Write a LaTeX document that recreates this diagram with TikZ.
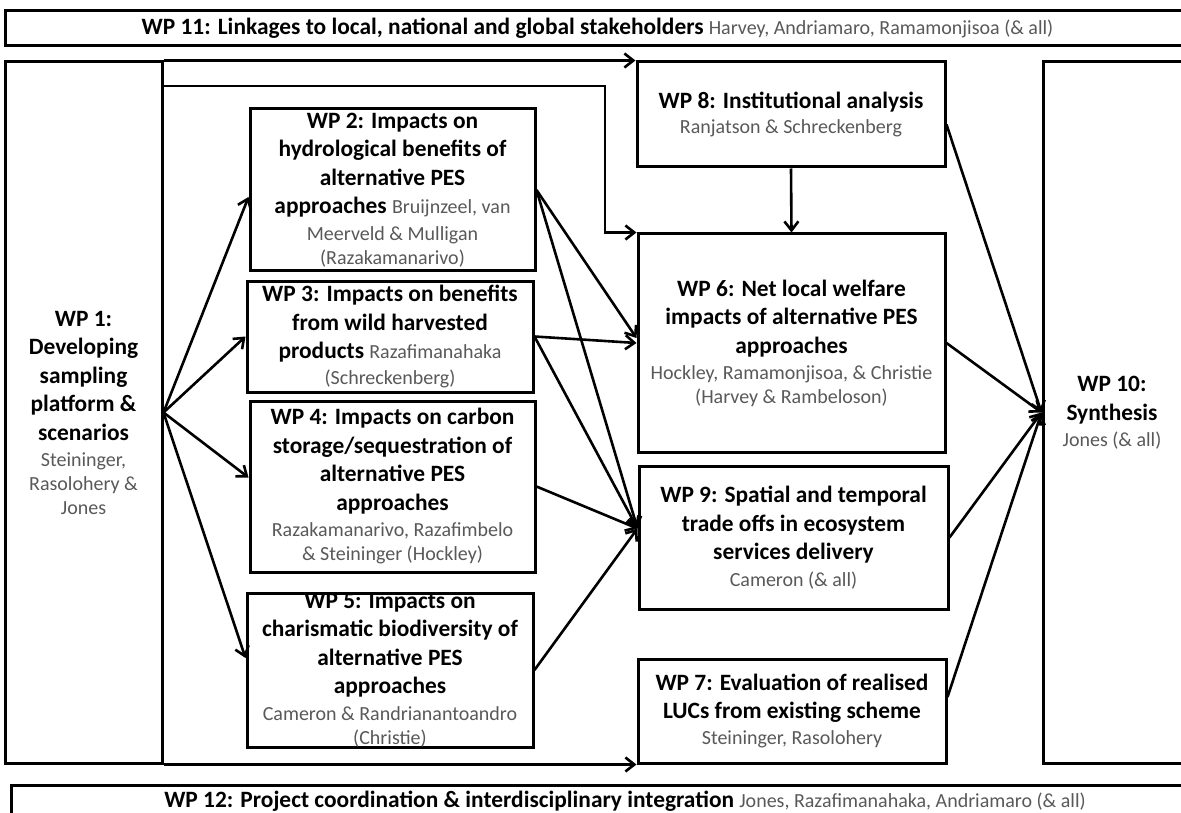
\documentclass[tikz,border=0pt]{standalone}
\usepackage{fontspec}
\setmainfont{Carlito}
\usetikzlibrary{arrows.meta,calc}
\definecolor{namegray}{HTML}{595959}
\newcommand\nm[1]{{\normalfont\color{namegray}\fontsize{20}{24}\selectfont #1}}
\tikzset{
  wpbox/.style={draw, line width=3pt, inner sep=0pt, align=center,
    font=\fontsize{23.4}{28.5}\selectfont\bfseries},
  wptext/.style={inner sep=0pt, align=center,
    font=\fontsize{23.4}{28.5}\selectfont\bfseries},
  conn/.style={line width=2.6pt, -{Straight Barb[length=9pt,width=14pt]}},
  plain/.style={line width=2.6pt}
}
\begin{document}
\begin{tikzpicture}[x=1pt,y=-1pt]
\useasboundingbox (0,0) rectangle (1181,813);
\fill[white] (0,0) rectangle (1181,813);

% bars
\node[wpbox, minimum width=1185pt, minimum height=35pt] (wp11) at (597.5,28.5)
  {WP 11: Linkages to local, national and global stakeholders \nm{Harvey, Andriamaro, Ramamonjisoa (\& all)}};
\node[wpbox, minimum width=1185pt, minimum height=36pt] (wp12) at (603.5,803) {};
\node[wptext] (wp12t) at (625,801)
  {WP 12: Project coordination \& interdisciplinary integration \nm{Jones, Razafimanahaka, Andriamaro (\& all)}};

% side boxes
\node[wpbox, minimum width=157pt, minimum height=701pt] (wp1) at (83.5,412.5)
  {WP 1:\\ Developing\\ sampling\\ platform \&\\ scenarios\\[-2.5pt]
   \nm{Steininger,}\\[-4.5pt] \nm{Rasolohery \&}\\[-4.5pt] \nm{Jones}};
\node[wpbox, minimum width=152pt, minimum height=701pt] (wp10) at (1119,412.5) {};
\node[wptext] (wp10t) at (1112,412.5) {WP 10:\\ Synthesis\\[-2.5pt] \nm{Jones (\& all)}};

% middle column
\node[wpbox, minimum width=285pt, minimum height=162pt] (wp2) at (392.5,190)
  {WP 2: Impacts on\\ hydrological benefits of\\ alternative PES\\
   approaches \nm{Bruijnzeel, van}\\[-2pt] \nm{Meerveld \& Mulligan}\\[-4.5pt] \nm{(Razakamanarivo)}};
\node[wpbox, minimum width=286pt, minimum height=111pt] (wp3) at (390,336.5)
  {WP 3: Impacts on benefits\\ from wild harvested\\
   products \nm{Razafimanahaka}\\[-3pt] \nm{(Schreckenberg)}};
\node[wpbox, minimum width=285pt, minimum height=171pt] (wp4) at (392.5,486.5)
  {WP 4: Impacts on carbon\\ storage/sequestration of\\ alternative PES\\ approaches\\[-2pt]
   \nm{Razakamanarivo, Razafimbelo}\\[-4.5pt] \nm{\& Steininger (Hockley)}};
\node[wpbox, minimum width=286pt, minimum height=154pt] (wp5) at (390,670)
  {WP 5: Impacts on\\ charismatic biodiversity of\\ alternative PES\\ approaches\\[-2pt]
   \nm{Cameron \& Randrianantoandro}\\[-4.5pt] \nm{(Christie)}};

% right column
\node[wpbox, minimum width=308pt, minimum height=105pt] (wp8) at (791,114.5)
  {WP 8: Institutional analysis\\[-3pt] \nm{Ranjatson \& Schreckenberg}};
\node[wpbox, minimum width=307pt, minimum height=218pt] (wp6) at (791.5,343)
  {WP 6: Net local welfare\\ impacts of alternative PES\\ approaches\\[-2.5pt]
   \nm{Hockley, Ramamonjisoa, \& Christie}\\[-4.5pt] \nm{(Harvey \& Rambeloson)}};
\node[wpbox, minimum width=309pt, minimum height=143pt] (wp9) at (793.5,537.5)
  {WP 9: Spatial and temporal\\ trade offs in ecosystem\\ services delivery\\[-2pt]
   \nm{Cameron (\& all)}};
\node[wpbox, minimum width=308pt, minimum height=104pt] (wp7) at (792,711)
  {WP 7: Evaluation of realised\\ LUCs from existing scheme\\[-2.5pt]
   \nm{Steininger, Rasolohery}};

% helper coordinates
\coordinate (e1) at (162,86);
\coordinate (e2) at (605,86);
\coordinate (in9) at ([yshift=9pt]wp9.west);

% connectors from WP1
\draw[conn] (wp1.north east) -- (wp8.north west);
\draw[conn] (wp1.south east) -- (wp7.south west);
\draw[conn] (e1) -- (e2) |- (wp6.north west);
\draw[conn] (wp1.east) -- ([yshift=-7pt]wp2.west);
\draw[conn] (wp1.east) -- (wp3.west);
\draw[conn] (wp1.east) -- ([yshift=9pt]wp4.west);
\draw[conn] (wp1.east) -- ([yshift=12pt]wp5.west);

% into WP6 and WP9
\draw[conn] (wp2.east) -- ([yshift=5pt]wp6.west);
\draw[conn] (wp3.east) -- (wp6.west);
\draw[conn] (wp2.east) -- (in9);
\draw[conn] (wp3.east) -- (in9);
\draw[conn] (wp4.east) -- (in9);
\draw[conn] (wp5.east) -- (in9);
\draw[conn] (wp8.south) -- (wp6.north);

% into WP10
\draw[conn] ([yshift=-10pt]wp8.east) -- (wp10.west);
\draw[conn] (wp6.east) -- (wp10.west);
\draw[conn] (wp9.east) -- (wp10.west);
\draw[conn] ([yshift=14pt]wp7.east) -- (wp10.west);
\end{tikzpicture}
\end{document}
